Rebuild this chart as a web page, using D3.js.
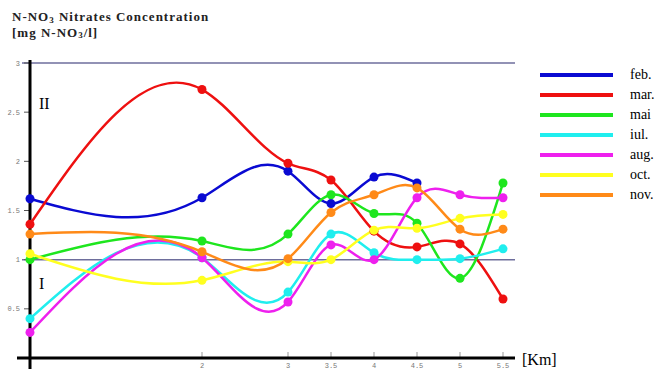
<!DOCTYPE html>
<html>
<head>
<meta charset="utf-8">
<script src="https://cdn.jsdelivr.net/npm/d3@7"></script>
<style>
body { margin: 0; background: #fff; }
</style>
</head>
<body>
<div id="chart-area"></div>
<script>
// km positions along the river
const kms = [0, 2, 3, 3.5, 4, 4.5, 5, 5.5]
const xTicks = [2, 3, 3.5, 4, 4.5, 5, 5.5]
const yTicks = [0.5, 1, 1.5, 2, 2.5, 3]
const months = ["feb.", "mar.", "mai", "iul.", "aug.", "oct.", "nov."]
const colors = ["#0a0ad2", "#ee1010", "#1ee61e", "#20eeee", "#ee20ee", "#ffff20", "#ff8a18"]

const feb = [1.62, 1.63, 1.90, 1.57, 1.84, 1.78, null, null]
const mar = [1.36, 2.73, 1.98, 1.81, 1.29, 1.13, 1.16, 0.60]
const mai = [1.00, 1.19, 1.26, 1.66, 1.47, 1.37, 0.81, 1.78]
const iul = [0.40, 1.02, 0.67, 1.26, 1.07, 1.00, 1.01, 1.11]
const aug = [0.26, 1.02, 0.57, 1.15, 1.00, 1.63, 1.66, 1.63]
const oct = [1.06, 0.79, 0.98, 1.00, 1.30, 1.32, 1.42, 1.46]
const nov = [1.26, 1.08, 1.01, 1.48, 1.66, 1.73, 1.31, 1.31]

const series = [feb, mar, mai, iul, aug, oct, nov]

let width = 658, height = 369

let svg = d3.select("#chart-area")
	.append("svg")
	.attr("width", width)
	.attr("height", height)

let x = d3.scaleLinear().domain([0, 5.5]).range([30, 503])
let y = d3.scaleLinear().domain([0, 3]).range([358, 63])

// natural cubic spline y(x) with uneven knots, drawn as bezier pieces
function SplineX(context) { this._context = context }
SplineX.prototype = {
	areaStart: function() { this._line = 0 },
	areaEnd: function() { this._line = NaN },
	lineStart: function() { this._x = []; this._y = [] },
	point: function(px, py) { this._x.push(+px); this._y.push(+py) },
	lineEnd: function() {
		let xs = this._x, ys = this._y, n = xs.length, ctx = this._context
		if (!n) return
		ctx.moveTo(xs[0], ys[0])
		if (n == 2) { ctx.lineTo(xs[1], ys[1]); return }
		let h = [], m = new Array(n).fill(0)
		for (let i = 0; i < n - 1; i++) h.push(xs[i+1] - xs[i])
		// tridiagonal solve for second derivatives (m[0] = m[n-1] = 0)
		let a = [], b = [], c = [], r = []
		for (let i = 1; i < n - 1; i++) {
			a.push(h[i-1]); b.push(2 * (h[i-1] + h[i])); c.push(h[i])
			r.push(6 * ((ys[i+1] - ys[i]) / h[i] - (ys[i] - ys[i-1]) / h[i-1]))
		}
		let k = r.length
		for (let i = 1; i < k; i++) {
			let w = a[i] / b[i-1]
			b[i] -= w * c[i-1]; r[i] -= w * r[i-1]
		}
		let sol = new Array(k)
		sol[k-1] = r[k-1] / b[k-1]
		for (let i = k - 2; i >= 0; i--) sol[i] = (r[i] - c[i] * sol[i+1]) / b[i]
		for (let i = 0; i < k; i++) m[i+1] = sol[i]
		for (let i = 0; i < n - 1; i++) {
			let d = (ys[i+1] - ys[i]) / h[i]
			let s0 = d - h[i] * (2 * m[i] + m[i+1]) / 6
			let s1 = d + h[i] * (m[i] + 2 * m[i+1]) / 6
			ctx.bezierCurveTo(xs[i] + h[i] / 3, ys[i] + h[i] * s0 / 3,
				xs[i+1] - h[i] / 3, ys[i+1] - h[i] * s1 / 3, xs[i+1], ys[i+1])
		}
	}
}
let curveSplineX = context => new SplineX(context)

// title
let title = svg.append("text")
	.attr("x", 12).attr("y", 21)
	.attr("font-family", "Liberation Serif, serif")
	.attr("font-weight", "bold")
	.attr("font-size", "13px")
	.attr("letter-spacing", "1px")
	.attr("fill", "#222")
title.append("tspan").text("N-NO")
title.append("tspan").text("3").attr("font-size", "9px").attr("dy", 2)
title.append("tspan").text(" Nitrates Concentration").attr("dy", -2)

let unit = svg.append("text")
	.attr("x", 12).attr("y", 37)
	.attr("font-family", "Liberation Serif, serif")
	.attr("font-weight", "bold")
	.attr("font-size", "13px")
	.attr("letter-spacing", "1px")
	.attr("fill", "#222")
unit.append("tspan").text("[mg N-NO")
unit.append("tspan").text("3").attr("font-size", "9px").attr("dy", 1)
unit.append("tspan").text("/l]").attr("dy", -1)

// reference lines at 1 and 3
svg.selectAll(".ref")
	.data([1, 3])
	.enter()
	.append("line")
	.attr("x1", 22).attr("x2", 515)
	.attr("y1", d => y(d)).attr("y2", d => y(d))
	.attr("stroke", "#6e6e9c")
	.attr("stroke-width", 1.5)

// y ticks + labels
svg.selectAll(".ytick")
	.data(yTicks)
	.enter()
	.append("line")
	.attr("x1", 24).attr("x2", 30)
	.attr("y1", d => y(d)).attr("y2", d => y(d))
	.attr("stroke", "#555")
	.attr("stroke-width", 1)

svg.selectAll(".ylab")
	.data(yTicks)
	.enter()
	.append("text")
	.attr("x", 20)
	.attr("y", d => y(d) + 2.5)
	.attr("text-anchor", "end")
	.attr("font-family", "Liberation Mono, monospace")
	.attr("font-size", "7px")
	.attr("fill", "#777")
	.text(d => d)

// x ticks + labels
svg.selectAll(".xtick")
	.data(xTicks)
	.enter()
	.append("line")
	.attr("x1", d => x(d)).attr("x2", d => x(d))
	.attr("y1", 352).attr("y2", 358)
	.attr("stroke", "#999")
	.attr("stroke-width", 1)

svg.selectAll(".xlab")
	.data(xTicks)
	.enter()
	.append("text")
	.attr("x", d => x(d))
	.attr("y", 368)
	.attr("text-anchor", "middle")
	.attr("font-family", "Liberation Mono, monospace")
	.attr("font-size", "7px")
	.attr("fill", "#777")
	.text(d => d)

// axes
svg.append("line")
	.attr("x1", 30).attr("x2", 30)
	.attr("y1", 60).attr("y2", 369)
	.attr("stroke", "#000").attr("stroke-width", 3)

svg.append("line")
	.attr("x1", 17).attr("x2", 515)
	.attr("y1", 358).attr("y2", 358)
	.attr("stroke", "#000").attr("stroke-width", 3)

svg.append("text")
	.attr("x", 522).attr("y", 365)
	.attr("font-family", "Liberation Serif, serif")
	.attr("font-size", "16px")
	.text("[Km]")

// zone labels
svg.append("text")
	.attr("x", 39).attr("y", 109)
	.attr("font-family", "Liberation Serif, serif")
	.attr("font-size", "16px")
	.text("II")

svg.append("text")
	.attr("x", 39).attr("y", 289)
	.attr("font-family", "Liberation Serif, serif")
	.attr("font-size", "16px")
	.text("I")

// lines
let line = d3.line()
	.x(p => x(p[0]))
	.y(p => y(p[1]))
	.curve(curveSplineX)

series.forEach(function(vals, i){
	let pts = kms.map((k, j) => [k, vals[j]]).filter(p => p[1] != null)
	svg.append("path")
		.attr("d", line(pts))
		.attr("fill", "none")
		.attr("stroke", colors[i])
		.attr("stroke-width", 2.5)
})

series.forEach(function(vals, i){
	let pts = kms.map((k, j) => [k, vals[j]]).filter(p => p[1] != null)
	svg.append("g")
		.selectAll("circle")
		.data(pts)
		.enter()
		.append("circle")
		.attr("cx", p => x(p[0]))
		.attr("cy", p => y(p[1]))
		.attr("r", 4.5)
		.attr("fill", colors[i])
})

// legend
let legend = svg.append("g")
months.forEach(function(m, i){
	let ly = 75 + i * 20
	legend.append("line")
		.attr("x1", 540).attr("x2", 613)
		.attr("y1", ly).attr("y2", ly)
		.attr("stroke", colors[i])
		.attr("stroke-width", 4)
	legend.append("text")
		.attr("x", 630).attr("y", ly + 4)
		.attr("font-family", "Liberation Serif, serif")
		.attr("font-size", "14px")
		.text(m)
})
</script>
</body>
</html>
